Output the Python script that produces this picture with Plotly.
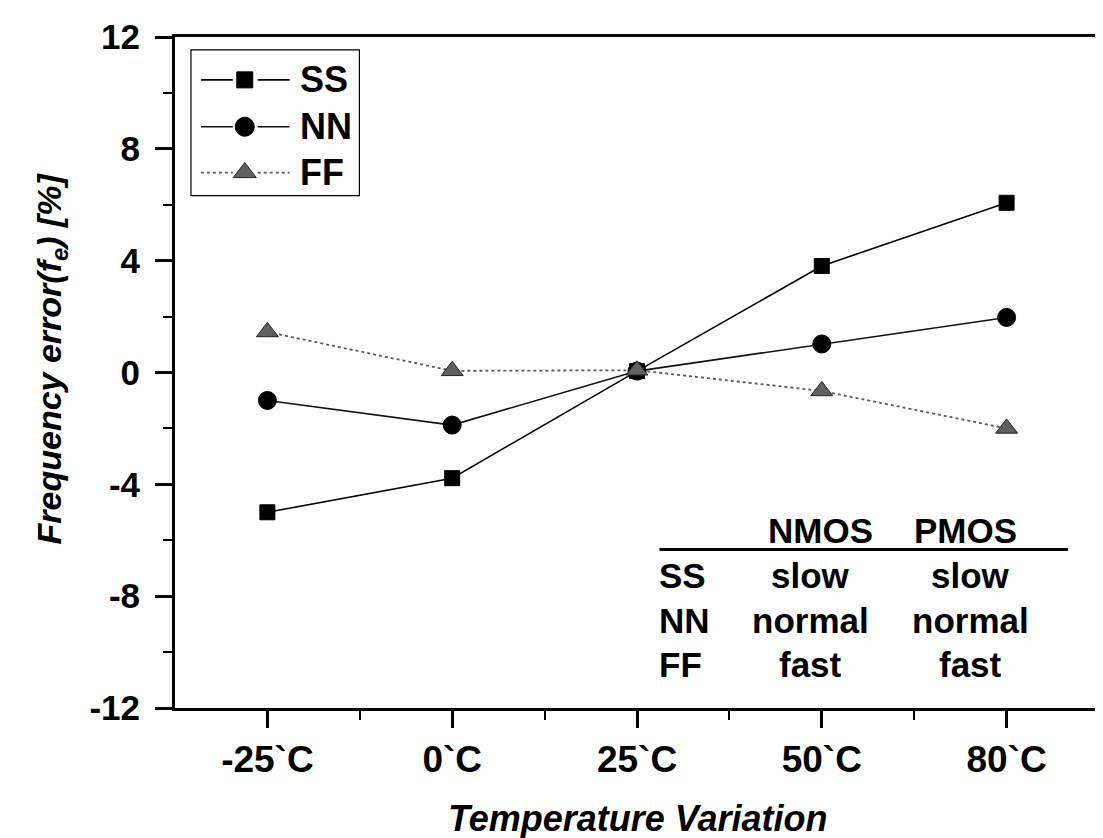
import plotly.graph_objects as go

# ---------------- data ----------------
categories = ["-25`C", "0`C", "25`C", "50`C", "80`C"]
ss_values = [-5.0, -3.78, 0.05, 3.81, 6.07]
nn_values = [-1.0, -1.88, 0.05, 1.02, 1.97]
ff_values = [1.45, 0.06, 0.08, -0.66, -2.0]
series_names = ["SS", "NN", "FF"]
y_tick_values = [12, 8, 4, 0, -4, -8, -12]
y_tick_labels = ["12", "8", "4", "0", "-4", "-8", "-12"]
table_header = ["NMOS", "PMOS"]
table_rows = ["SS", "NN", "FF"]
table_nmos = ["slow", "normal", "fast"]
table_pmos = ["slow", "normal", "fast"]

# ---------------- styles ----------------
FONT = "Liberation Sans, Arial, sans-serif"
W, H = 1103, 838
L, R, T, B = 167, 9, 27, 138
styles = {
    "SS": dict(symbol="square", size=15, color="black", lcolor="black", dash="solid", lw=1.6),
    "NN": dict(symbol="circle", size=18, color="black", lcolor="#111111", dash="solid", lw=1.6),
    "FF": dict(symbol="triangle-up", size=19, color="#606060", lcolor="#5a5a5a", dash="dot", lw=1.8),
}
xs = list(range(len(categories)))

fig = go.Figure()
for name, vals in zip(series_names, [ss_values, nn_values, ff_values]):
    st = styles[name]
    fig.add_trace(go.Scatter(
        x=xs, y=vals, mode="lines+markers", name=name, showlegend=False,
        line=dict(color=st["lcolor"], width=st["lw"], dash=st["dash"]),
        marker=dict(symbol=st["symbol"], size=st["size"], color=st["color"],
                    line=dict(color="#222222" if name == "FF" else "black", width=1)),
    ))

# ---------------- custom legend (overlay pixel axes) ----------------
leg_rows_y = [70, 117, 163]
leg_segments = [(193, 225), (250, 282)]
leg_mx, leg_tx = 237, 290
for name, yy in zip(series_names, leg_rows_y):
    st = styles[name]
    for xa, xb in leg_segments:
        fig.add_trace(go.Scatter(
            x=[xa, xb], y=[yy, yy], mode="lines", xaxis="x2", yaxis="y2", showlegend=False,
            line=dict(color=st["lcolor"], width=st["lw"], dash=st["dash"]), hoverinfo="skip"))
    fig.add_trace(go.Scatter(
        x=[leg_mx], y=[yy], mode="markers", xaxis="x2", yaxis="y2", showlegend=False,
        marker=dict(symbol=st["symbol"], size=st["size"] + 1, color=st["color"],
                    line=dict(color="#222222" if name == "FF" else "black", width=1)),
        hoverinfo="skip"))
    fig.add_annotation(x=leg_tx, y=yy, xref="x2", yref="y2", text="<b>%s</b>" % name,
                       showarrow=False, xanchor="left", yanchor="middle",
                       font=dict(family=FONT, size=36, color="black"))
fig.add_shape(type="rect", xref="x2", yref="y2", x0=183, x1=352, y0=40, y1=186,
              line=dict(color="black", width=1.2), fillcolor="rgba(0,0,0,0)")

# ---------------- table ----------------
tfont = dict(family=FONT, size=35, color="black")
hdr_y, line_y, rows_y = 522, 541, [567, 612, 656]
fig.add_shape(type="line", xref="x2", yref="y2", x0=653, x1=1063, y0=line_y, y1=line_y,
              line=dict(color="black", width=3))
for txt, cx in zip(table_header, [815, 960]):
    fig.add_annotation(x=cx, y=hdr_y, xref="x2", yref="y2", text="<b>%s</b>" % txt,
                       showarrow=False, xanchor="center", yanchor="middle", font=tfont)
for r, n, p, yy in zip(table_rows, table_nmos, table_pmos, rows_y):
    fig.add_annotation(x=651, y=yy, xref="x2", yref="y2", text="<b>%s</b>" % r,
                       showarrow=False, xanchor="left", yanchor="middle", font=tfont)
    fig.add_annotation(x=805, y=yy, xref="x2", yref="y2", text="<b>%s</b>" % n,
                       showarrow=False, xanchor="center", yanchor="middle", font=tfont)
    fig.add_annotation(x=965, y=yy, xref="x2", yref="y2", text="<b>%s</b>" % p,
                       showarrow=False, xanchor="center", yanchor="middle", font=tfont)

# ---------------- axis titles ----------------
fig.add_annotation(x=0.5, y=(H - B - 811) / (H - T - B), xref="paper", yref="paper",
                   text="<b><i>Temperature Variation</i></b>", showarrow=False,
                   xanchor="center", yanchor="middle", font=dict(family=FONT, size=36, color="black"))
fig.add_annotation(x=(43 - L) / (W - L - R), y=(H - B - 349) / (H - T - B), xref="paper", yref="paper",
                   text="<b><i>Frequency error(f<sub>e</sub>) [%]</i></b>", textangle=-90,
                   showarrow=False, xanchor="center", yanchor="middle",
                   font=dict(family=FONT, size=34, color="black"))

fig.update_layout(
    width=W, height=H, margin=dict(l=L, r=R, t=T, b=B),
    paper_bgcolor="white", plot_bgcolor="white", showlegend=False,
    xaxis=dict(range=[-0.5, 4.5], tickmode="array", tickvals=xs, ticktext=categories,
               showgrid=False, zeroline=False, showline=True, linecolor="black", linewidth=3,
               mirror=True, ticks="outside", ticklen=17, tickwidth=2.5, tickcolor="black",
               tickfont=dict(family=FONT, size=37, color="black", weight="bold"),
               ticklabelstandoff=0,
               minor=dict(tickmode="array", tickvals=[0.5, 1.5, 2.5, 3.5], ticks="outside",
                          ticklen=9, tickwidth=2, tickcolor="black")),
    yaxis=dict(range=[-12, 12], tickmode="array", tickvals=y_tick_values, ticktext=y_tick_labels,
               showgrid=False, zeroline=False, showline=True, linecolor="black", linewidth=3,
               mirror=True, ticks="outside", ticklen=17, tickwidth=2.5, tickcolor="black",
               tickfont=dict(family=FONT, size=35, color="black", weight="bold"),
               ticklabelstandoff=8,
               minor=dict(tickmode="array", tickvals=[10, 6, 2, -2, -6, -10], ticks="outside",
                          ticklen=9, tickwidth=2, tickcolor="black")),
    xaxis2=dict(range=[L, W - R], overlaying="x", anchor="y2", visible=False, fixedrange=True),
    yaxis2=dict(range=[H - B, T], overlaying="y", anchor="x2", visible=False, fixedrange=True),
)

fig.write_html("out.html")
